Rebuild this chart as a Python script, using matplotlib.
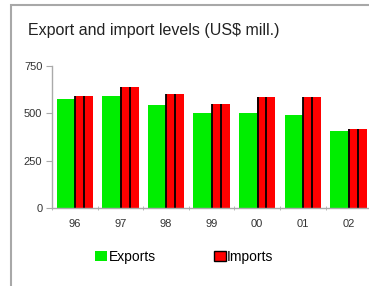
import matplotlib
matplotlib.use("Agg")
import matplotlib.pyplot as plt
from matplotlib.patches import Rectangle, Patch
import numpy as np

plt.rcParams['font.family'] = ['Liberation Sans', 'DejaVu Sans']

years = ["96", "97", "98", "99", "00", "01", "02"]
exports = [574, 591, 544, 500, 503, 491, 407]
imports = [593, 637, 602, 549, 585, 585, 416]

fig = plt.figure(figsize=(3.69, 2.86), dpi=100)
ax = fig.add_axes([0.141, 0.2727, 0.865, 0.4963])

x = np.arange(len(years))
w = 0.4
ax.bar(x - w, exports, width=w, align="edge", color="#00ee00", linewidth=0)
ax.bar(x, imports, width=w, align="edge", color="#ff0000", linewidth=0)
# black stripes on the import bars
ax.vlines(x + 0.01, 0, imports, color="black", linewidth=1.3)
ax.vlines(x + w / 2, 0, imports, color="black", linewidth=1.3)

ax.set_xlim(-0.5, len(years) - 0.5)
ax.set_ylim(0, 750)
ax.set_yticks([0, 250, 500, 750])
ax.set_xticks(x)
ax.set_xticklabels(years)
ax.set_xticks(np.arange(-0.5, len(years), 1), minor=True)
ax.tick_params(axis="x", which="major", length=0, pad=8, labelsize=8, colors="#333333")
ax.tick_params(axis="x", which="minor", length=3, color="#aaaaaa", direction="inout")
ax.tick_params(axis="y", length=4, color="#aaaaaa", labelsize=8, colors="#333333", pad=3)
ax.tick_params(axis="y", colors="#aaaaaa", labelcolor="#333333")

for s in ["top", "right"]:
    ax.spines[s].set_visible(False)
for s in ["left", "bottom"]:
    ax.spines[s].set_color("#aaaaaa")
    ax.spines[s].set_linewidth(1.0)

fig.text(0.076, 0.895, "Export and import levels (US$ mill.)", fontsize=11.5,
         color="#222222", va="center")

handles = [Patch(facecolor="#00ee00", edgecolor="none", label="Exports"),
           Patch(facecolor="#ff0000", edgecolor="black", linewidth=1, label="Imports")]
fig.legend(handles=handles, loc="center", bbox_to_anchor=(0.5, 0.101), ncol=2,
           frameon=False, fontsize=10, handlelength=0.85, handleheight=0.75,
           handletextpad=0.1, columnspacing=4.2)

frame = Rectangle((0.0298, -0.1), 1.2, 1.0811, transform=fig.transFigure,
                  fill=False, edgecolor="#a8a8a8", linewidth=1.5)
fig.patches.append(frame)

fig.savefig("out.png", dpi=100)
